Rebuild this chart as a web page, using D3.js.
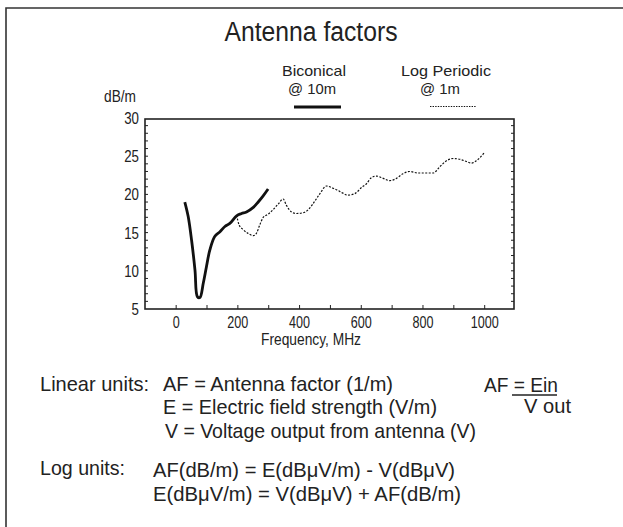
<!DOCTYPE html>
<html><head><meta charset="utf-8">
<script src="https://cdn.jsdelivr.net/npm/d3@7"></script>
<style>
html,body{margin:0;padding:0;background:#fff;}
svg{display:block;}
text{font-family:"Liberation Sans",Arial,sans-serif;fill:#222;}
</style></head>
<body>
<svg id="chart" width="623" height="527"></svg>
<script>
// Biconical antenna @10m (solid)
const biconicalFreq = [28, 39, 50, 61, 69, 77, 88, 98, 109, 125, 142, 158, 174, 196, 212, 228, 250, 266, 282, 298];
const biconicalAF   = [19.0, 17.1, 14.0, 10.1, 6.6, 6.5, 8.4, 10.5, 12.7, 14.5, 15.1, 15.8, 16.2, 17.2, 17.5, 17.7, 18.3, 19.0, 19.8, 20.7];
// Log periodic antenna @1m (dotted)
const logPerFreq = [196, 204, 217, 233, 250, 260, 271, 282, 298, 314, 330, 347, 357, 374, 390, 411, 428, 444, 466, 487, 509, 530, 557, 579, 601, 617, 633, 649, 671, 692, 714, 735, 757, 784, 806, 833, 854, 876, 898, 919, 941, 957, 973, 989, 1000];
const logPerAF   = [17.3, 16.0, 15.4, 14.9, 14.6, 14.9, 16.0, 17.0, 17.4, 18.0, 18.7, 19.4, 18.6, 17.7, 17.5, 17.6, 18.0, 18.8, 20.1, 21.1, 20.8, 20.4, 19.9, 20.1, 20.9, 21.4, 22.2, 22.4, 22.1, 21.8, 22.1, 22.7, 23.0, 22.8, 22.8, 22.8, 23.6, 24.4, 24.7, 24.6, 24.3, 24.1, 24.4, 25.0, 25.5];
const xTickLabels = [0, 200, 400, 600, 800, 1000];
const yTickLabels = [5, 10, 15, 20, 25, 30];
const legendLabels = [["Biconical", "@ 10m"], ["Log Periodic", "@ 1m"]];

const svg = d3.select("#chart");

function txt(xp, yp, s, size, anchor, width, k) {
  const el = svg.append("text").attr("x", xp).attr("y", yp).attr("font-size", size)
    .attr("text-anchor", anchor || "start").text(s);
  const nat = el.node().getComputedTextLength();
  const w = width || nat * (k || 0.8);
  el.attr("textLength", w).attr("lengthAdjust", "spacingAndGlyphs");
  return el;
}

// outer border (top and left)
svg.append("path").attr("d", "M6,527 L6,8 L623,8").attr("fill", "none").attr("stroke", "#333").attr("stroke-width", 1.6);

// title
txt(311, 41, "Antenna factors", 27, "middle", 173);

const L = 145, R = 514, T = 119, B = 309;
const x = d3.scaleLinear().domain([-101, 1095]).range([L, R]);
const y = d3.scaleLinear().domain([5, 30]).range([B, 118]);

// frame
svg.append("rect").attr("x", L).attr("y", T).attr("width", R - L).attr("height", B - T)
  .attr("fill", "none").attr("stroke", "#222").attr("stroke-width", 1.6);

// y axis minor ticks inward (left and right)
const yMinor = d3.range(6, 30, 1);
const gy = svg.append("g");
gy.selectAll("line.l").data(yMinor).join("line").attr("class", "l")
  .attr("x1", L).attr("x2", L + 3).attr("y1", d => y(d)).attr("y2", d => y(d)).attr("stroke", "#222").attr("stroke-width", 1);
gy.selectAll("line.r").data(yMinor).join("line").attr("class", "r")
  .attr("x1", R - 3).attr("x2", R).attr("y1", d => y(d)).attr("y2", d => y(d)).attr("stroke", "#222").attr("stroke-width", 1);
yTickLabels.forEach(v => txt(L - 6, y(v) + 6, String(v), 17, "end", null, 0.78));
txt(136, 102, "dB/m", 16, "end", 32);

// x ticks
const xTicks = d3.range(0, 1001, 100);
svg.append("g").selectAll("line").data(xTicks).join("line")
  .attr("x1", d => x(d)).attr("x2", d => x(d)).attr("y1", B).attr("y2", B - 4).attr("stroke", "#222").attr("stroke-width", 1);
xTickLabels.forEach(v => txt(x(v), B + 19, String(v), 17, "middle", null, 0.74));
txt(311, 345, "Frequency, MHz", 16, "middle", 100);

// lines
const lineMono = d3.line().x(d => x(d[0])).y(d => y(d[1])).curve(d3.curveMonotoneX);
svg.append("path").datum(logPerFreq.map((f, i) => [f, logPerAF[i]]))
  .attr("d", lineMono).attr("fill", "none").attr("stroke", "#111").attr("stroke-width", 1.2).attr("stroke-dasharray", "2,1.5");
const lineCR = d3.line().x(d => x(d[0])).y(d => y(d[1])).curve(d3.curveCatmullRom);
svg.append("path").datum(biconicalFreq.map((f, i) => [f, biconicalAF[i]]))
  .attr("d", lineCR).attr("fill", "none").attr("stroke", "#111").attr("stroke-width", 2.8).attr("stroke-linejoin", "round");

// legend
txt(314, 76, legendLabels[0][0], 15, "middle", 64);
txt(312, 94, legendLabels[0][1], 15, "middle", 48);
svg.append("line").attr("x1", 294).attr("x2", 341).attr("y1", 107).attr("y2", 107)
  .attr("stroke", "#111").attr("stroke-width", 3.2);
txt(446, 76, legendLabels[1][0], 15, "middle", 90);
txt(440, 94, legendLabels[1][1], 15, "middle", 40);
svg.append("line").attr("x1", 430).attr("x2", 476).attr("y1", 106.5).attr("y2", 106.5)
  .attr("stroke", "#111").attr("stroke-width", 1).attr("stroke-dasharray", "1.4,1.2");

// equations
const fs = 21;
txt(40, 391, "Linear units:", fs, "start", 109);
txt(163, 391, "AF = Antenna factor (1/m)", fs, "start", 230);
txt(163, 414, "E = Electric field strength (V/m)", fs, "start", 274);
txt(165, 438, "V = Voltage output from antenna (V)", fs, "start", 311);
txt(484, 392, "AF = Ein", fs, "start", 74);
svg.append("line").attr("x1", 512).attr("x2", 557).attr("y1", 395).attr("y2", 395).attr("stroke", "#222").attr("stroke-width", 1.3);
txt(524, 413, "V out", fs, "start", 47);
txt(40, 475, "Log units:", fs, "start", 85);
txt(153, 477, "AF(dB/m) = E(dBμV/m) - V(dBμV)", fs, "start", 302);
txt(153, 501, "E(dBμV/m) = V(dBμV) + AF(dB/m)", fs, "start", 308);
</script>
</body></html>
